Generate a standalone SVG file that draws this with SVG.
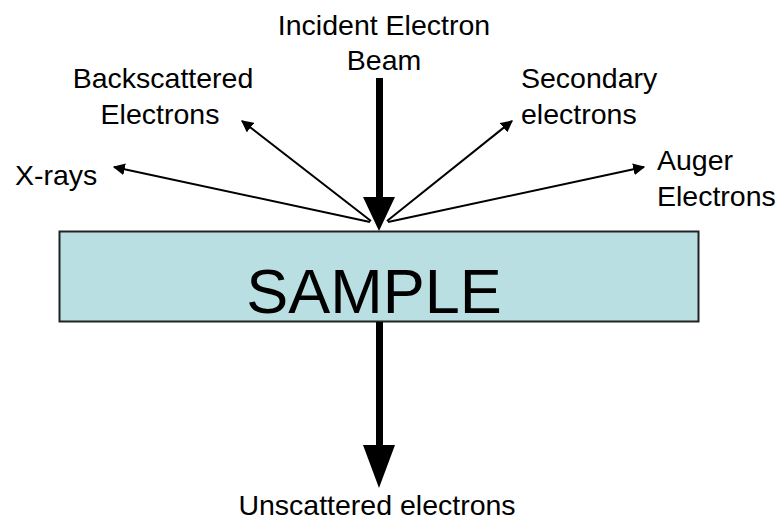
<svg xmlns="http://www.w3.org/2000/svg" width="781" height="525" viewBox="0 0 781 525">
<style>
.t{font-family:"Liberation Sans",Arial,sans-serif;font-size:28.5px;fill:#000}
.thin{stroke:#000;stroke-width:2;fill:none;marker-end:url(#ah)}
.big{fill:#000}
</style>
<defs>
<marker id="ah" viewBox="0 0 10 10" refX="9" refY="5" markerWidth="6" markerHeight="6" orient="auto" markerUnits="strokeWidth">
<path d="M0,0 L10,5 L0,10 Z" fill="#000"/>
</marker>
</defs>
<rect width="781" height="525" fill="#fff"/>
<g id="sample">
<rect x="59.5" y="231.5" width="639" height="90" fill="#b9dfe2" stroke="#222" stroke-width="2"/>
<text class="t" x="374" y="313" text-anchor="middle" style="font-size:63px">SAMPLE</text>
</g>
<g id="incident">
<text class="t" x="384" y="35" text-anchor="middle">Incident Electron</text>
<text class="t" x="384" y="70" text-anchor="middle">Beam</text>
</g>
<g id="backscattered">
<text class="t" x="163" y="88" text-anchor="middle">Backscattered</text>
<text class="t" x="160" y="124" text-anchor="middle">Electrons</text>
</g>
<g id="xrays">
<text class="t" x="15" y="185">X-rays</text>
</g>
<g id="secondary">
<text class="t" x="521" y="88">Secondary</text>
<text class="t" x="521" y="124">electrons</text>
</g>
<g id="auger">
<text class="t" x="657" y="170">Auger</text>
<text class="t" x="657" y="206">Electrons</text>
</g>
<g id="unscattered">
<text class="t" x="377" y="515" text-anchor="middle">Unscattered electrons</text>
</g>
<g id="connectors">
<path class="big" d="M376,78 H383 V197 H395 L379,231 L363,197 H376 Z"/>
<path class="big" d="M376,322 H383 V445 H395 L379,488 L363,445 H376 Z"/>
<line class="thin" x1="371" y1="221" x2="242" y2="121"/>
<line class="thin" x1="370" y1="222" x2="114" y2="167"/>
<line class="thin" x1="387" y1="221" x2="512" y2="121"/>
<line class="thin" x1="388" y1="222" x2="644" y2="167"/>
</g>
</svg>
